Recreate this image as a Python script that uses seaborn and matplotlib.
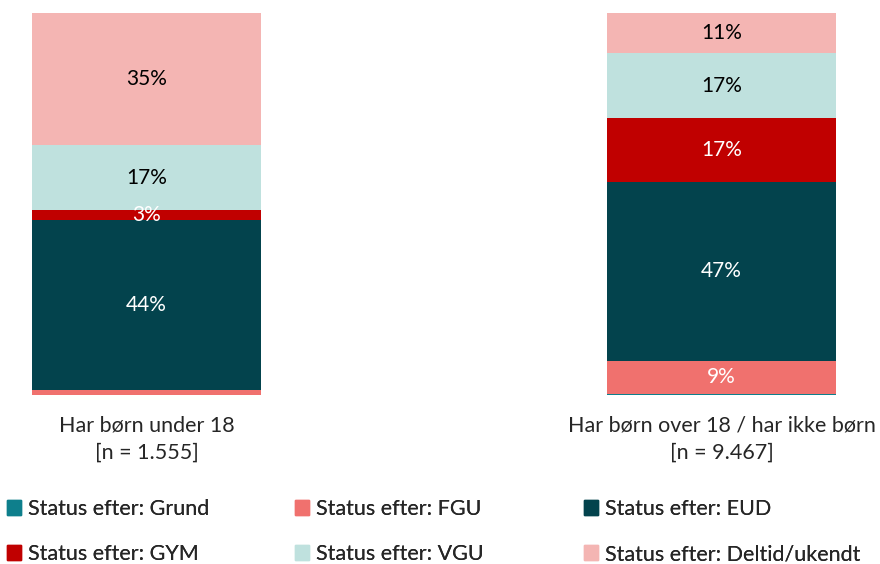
import numpy as np
import pandas as pd
import seaborn as sns
import matplotlib.pyplot as plt
from matplotlib.patches import Patch

sns.set_style("white")
plt.rcParams['font.family'] = ['Lato', 'DejaVu Sans']

# data (andele i %)
groups = ["Har børn under 18\n[n = 1.555]", "Har børn over 18 / har ikke børn\n[n = 9.467]"]
categories = ["Status efter: Grund", "Status efter: FGU", "Status efter: EUD",
              "Status efter: GYM", "Status efter: VGU", "Status efter: Deltid/ukendt"]
grund = [0.0, 0.3]
fgu = [1.3, 8.7]
eud = [44.4, 46.8]
gym = [2.7, 16.7]
vgu = [17.0, 16.9]
deltid = [34.6, 10.6]

colors = ["#0E7F8C", "#F0716E", "#03434D", "#C00000", "#BFE1DE", "#F4B5B3"]
text_colors = ["white", "white", "white", "white", "black", "black"]

series = [grund, fgu, eud, gym, vgu, deltid]

fig = plt.figure(figsize=(8.8, 5.64), dpi=100)
ax = fig.add_axes([0, 1 - 395 / 564, 1, (395 - 13) / 564])

bottom = np.zeros(len(groups))
for vals, col, tcol in zip(series, colors, text_colors):
    sns.barplot(x=list(range(len(groups))), y=vals, bottom=bottom, color=col,
                width=0.398, linewidth=0, saturation=1, ax=ax, native_scale=True)
    for i, v in enumerate(vals):
        if v >= 2.5:
            ax.text(i, bottom[i] + v / 2, f"{round(v):.0f}%", ha="center", va="center",
                    color=tcol, fontsize=15)
    bottom = bottom + np.array(vals)

ax.set_xlim(-146.5 / 575, (880 - 146.5) / 575)
ax.set_ylim(0, 100)
ax.set_xticks(range(len(groups)))
ax.set_xticklabels(groups, fontsize=15.5, linespacing=1.45)
ax.tick_params(axis="x", length=0, pad=15)
ax.set_yticks([])
ax.set_xlabel("")
ax.set_ylabel("")
sns.despine(ax=ax, left=True, bottom=True)

# legend i tre kolonner med faste bredder
handles = [Patch(color=c, label=l) for c, l in zip(colors, categories)]
col_x = [5, 293, 582]
for k in range(3):
    idx = [k, k + 3]
    leg = fig.legend([handles[i] for i in idx], [categories[i] for i in idx],
                     loc="lower left", bbox_to_anchor=(col_x[k] / 880, -0.004), frameon=False,
                     fontsize=15.5, handlelength=0.65, handleheight=0.65, handletextpad=0.3,
                     labelspacing=1.17, borderaxespad=0.0, borderpad=0.1)
    fig.add_artist(leg)

fig.savefig("out.png", dpi=100)
